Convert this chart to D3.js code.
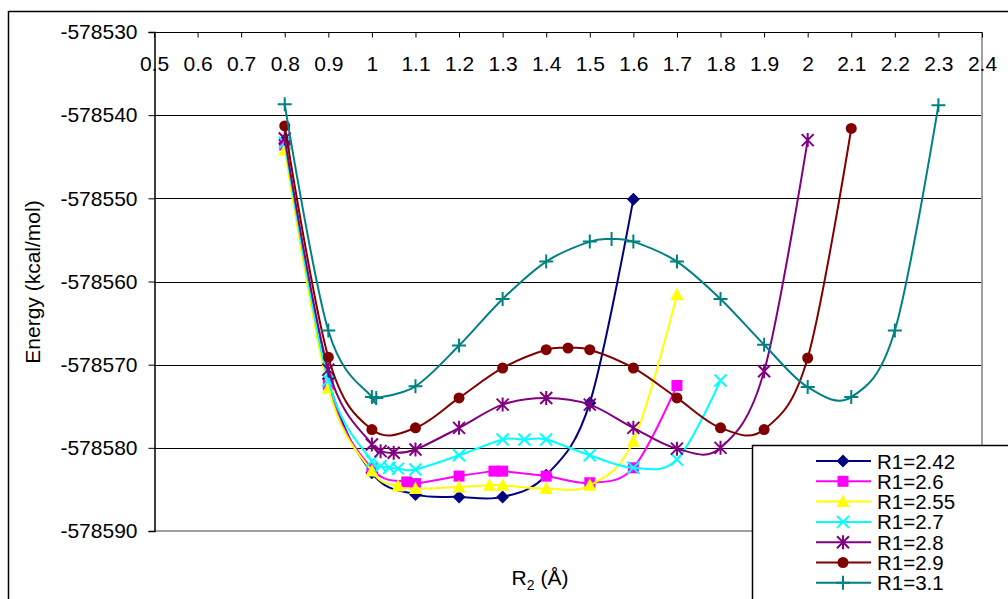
<!DOCTYPE html>
<html>
<head>
<meta charset="utf-8">
<script src="https://cdn.jsdelivr.net/npm/d3@7"></script>
<style>
  body { margin: 0; background: #fff; }
  svg { display: block; font-family: "Liberation Sans", Arial, sans-serif; }
</style>
</head>
<body>
<svg id="chart" width="1008" height="599"></svg>
<script>
// series names as in the legend
var seriesNames = ['R1=2.42', 'R1=2.6', 'R1=2.55', 'R1=2.7', 'R1=2.8', 'R1=2.9', 'R1=3.1'];

// R2 values (x) and energies (y) per series
var x242 = [0.8, 0.9, 1.0, 1.1, 1.2, 1.3, 1.4, 1.5, 1.6];
var y242 = [-578543.0, -578571.7, -578583.0, -578585.6, -578585.9, -578585.9, -578583.3, -578574.6, -578550.1];

var x26 = [0.8, 0.9, 1.0, 1.08, 1.1, 1.2, 1.28, 1.3, 1.4, 1.5, 1.6, 1.7];
var y26 = [-578543.6, -578572.4, -578582.5, -578584.1, -578584.3, -578583.4, -578582.8, -578582.8, -578583.4, -578584.2, -578582.4, -578572.5];

var x255 = [0.8, 0.9, 1.0, 1.06, 1.1, 1.2, 1.27, 1.3, 1.4, 1.5, 1.6, 1.7];
var y255 = [-578544.2, -578572.8, -578582.8, -578584.6, -578584.9, -578584.7, -578584.5, -578584.5, -578584.9, -578584.5, -578579.2, -578561.6];

var x27 = [0.8, 0.9, 1.0, 1.02, 1.04, 1.06, 1.1, 1.2, 1.3, 1.35, 1.4, 1.5, 1.6, 1.7, 1.8];
var y27 = [-578543.3, -578571.9, -578581.6, -578582.2, -578582.4, -578582.5, -578582.6, -578580.9, -578579.0, -578579.0, -578579.0, -578580.9, -578582.4, -578581.4, -578571.9];

var x28 = [0.8, 0.9, 1.0, 1.02, 1.05, 1.1, 1.2, 1.3, 1.4, 1.5, 1.6, 1.7, 1.8, 1.9, 2.0];
var y28 = [-578542.8, -578570.6, -578579.6, -578580.4, -578580.6, -578580.2, -578577.6, -578574.8, -578574.0, -578574.8, -578577.6, -578580.1, -578580.0, -578570.8, -578543.0];

var x29 = [0.8, 0.9, 1.0, 1.1, 1.2, 1.3, 1.4, 1.45, 1.5, 1.6, 1.7, 1.8, 1.9, 2.0, 2.1];
var y29 = [-578541.3, -578569.1, -578577.8, -578577.6, -578574.0, -578570.4, -578568.2, -578568.0, -578568.2, -578570.4, -578574.0, -578577.6, -578577.8, -578569.2, -578541.6];

var x31 = [0.8, 0.9, 1.0, 1.01, 1.1, 1.2, 1.3, 1.4, 1.5, 1.55, 1.6, 1.7, 1.8, 1.9, 2.0, 2.1, 2.2, 2.3];
var y31 = [-578538.7, -578565.9, -578573.9, -578574.0, -578572.6, -578567.7, -578562.1, -578557.6, -578555.2, -578554.9, -578555.2, -578557.6, -578562.1, -578567.6, -578572.7, -578573.9, -578565.9, -578538.8];

var xTicks = [0.5, 0.6, 0.7, 0.8, 0.9, 1, 1.1, 1.2, 1.3, 1.4, 1.5, 1.6, 1.7, 1.8, 1.9, 2, 2.1, 2.2, 2.3, 2.4];
var yTicks = [-578530, -578540, -578550, -578560, -578570, -578580, -578590];

// styling per series (colour, marker)
var colors = ['#000080', '#ff00ff', '#ffff00', '#00ffff', '#800080', '#800000', '#008080'];
var markers = ['diamond', 'square', 'triangle', 'x', 'star', 'circle', 'plus'];

var xs = [x242, x26, x255, x27, x28, x29, x31];
var ys = [y242, y26, y255, y27, y28, y29, y31];

var svg = d3.select('#chart');
var plotLeft = 154, plotRight = 982, plotTop = 32, plotBottom = 531;
var fontSize = 21;

var x = d3.scaleLinear().domain([0.5, 2.4]).range([plotLeft, plotRight]);
var y = d3.scaleLinear().domain([-578590, -578530]).range([plotBottom, plotTop]);

// outer chart border (runs off the picture right and bottom)
svg.append('rect')
    .attr('x', 8.5).attr('y', 11.5).attr('width', 1020).attr('height', 620)
    .attr('fill', '#fff').attr('stroke', '#000').attr('stroke-width', 1.5);

// grid lines
svg.append('g')
    .selectAll('line')
    .data(yTicks.slice(1, -1))
    .enter()
    .append('line')
    .attr('x1', plotLeft).attr('x2', plotRight)
    .attr('y1', function(d){ return Math.round(y(d)) + 0.5; })
    .attr('y2', function(d){ return Math.round(y(d)) + 0.5; })
    .attr('stroke', '#000').attr('stroke-width', 1);

// plot area right and bottom edges (grey)
svg.append('line').attr('x1', plotRight).attr('x2', plotRight).attr('y1', plotTop).attr('y2', plotBottom)
    .attr('stroke', '#a0a0a0').attr('stroke-width', 2);
svg.append('line').attr('x1', plotLeft).attr('x2', plotRight).attr('y1', plotBottom).attr('y2', plotBottom)
    .attr('stroke', '#a0a0a0').attr('stroke-width', 2);

// x axis at the top, ticks pointing into the plot
var xAxis = d3.axisBottom(x)
    .tickValues(xTicks)
    .tickSize(5)
    .tickPadding(18.5)
    .tickFormat(function(d){ return String(d); });
var gx = svg.append('g').attr('transform', 'translate(0,' + (plotTop + 0.5) + ')').call(xAxis);
gx.select('.domain').remove();
gx.selectAll('text').attr('font-size', fontSize).attr('font-family', 'Liberation Sans, Arial').attr('fill', '#000');
gx.selectAll('line').attr('stroke', '#000');
svg.append('line').attr('x1', plotLeft).attr('x2', plotRight).attr('y1', plotTop + 0.5).attr('y2', plotTop + 0.5)
    .attr('stroke', '#000').attr('stroke-width', 1.2);

// y axis
var yAxis = d3.axisLeft(y)
    .tickValues(yTicks)
    .tickSize(6)
    .tickPadding(11)
    .tickFormat(function(d){ return String(d); });
var gy = svg.append('g').attr('transform', 'translate(' + (plotLeft + 0.5) + ',0)').call(yAxis);
gy.select('.domain').attr('stroke', '#000').attr('stroke-width', 1.5);
gy.selectAll('text').attr('font-size', fontSize).attr('font-family', 'Liberation Sans, Arial').attr('fill', '#000');
gy.selectAll('line').attr('stroke', '#000');

// axis titles
svg.append('text')
    .attr('transform', 'translate(40,282) rotate(-90)')
    .attr('text-anchor', 'middle')
    .attr('font-size', 21)
    .text('Energy (kcal/mol)');
var xt = svg.append('text')
    .attr('x', 540).attr('y', 585)
    .attr('text-anchor', 'middle')
    .attr('font-size', 21);
xt.append('tspan').text('R');
xt.append('tspan').attr('font-size', 14).attr('dy', 5).text('2');
xt.append('tspan').attr('dy', -5).text(' (\u00c5)');

// marker drawing
function drawMarker(g, type, color){
    if(type == 'diamond'){
        g.append('path').attr('d', 'M0,-6.5L6.5,0L0,6.5L-6.5,0Z').attr('fill', color);
    }
    else if(type == 'square'){
        g.append('rect').attr('x', -5.5).attr('y', -5.5).attr('width', 11).attr('height', 11).attr('fill', color);
    }
    else if(type == 'triangle'){
        g.append('path').attr('d', 'M0,-7L6.5,5.5L-6.5,5.5Z').attr('fill', color);
    }
    else if(type == 'circle'){
        g.append('circle').attr('r', 5.5).attr('fill', color);
    }
    else if(type == 'x'){
        g.append('path').attr('d', 'M-6,-6L6,6M-6,6L6,-6').attr('stroke', color).attr('stroke-width', 2).attr('fill', 'none');
    }
    else if(type == 'star'){
        g.append('path').attr('d', 'M-6,-6L6,6M-6,6L6,-6M0,-7L0,7').attr('stroke', color).attr('stroke-width', 2).attr('fill', 'none');
    }
    else if(type == 'plus'){
        g.append('path').attr('d', 'M-7,0L7,0M0,-7L0,7').attr('stroke', color).attr('stroke-width', 2).attr('fill', 'none');
    }
}

// series lines and markers
var line = d3.line()
    .x(function(d){ return x(d[0]); })
    .y(function(d){ return y(d[1]); })
    .curve(d3.curveCardinal.tension(0));

seriesNames.forEach(function(name, i){
    var pts = xs[i].map(function(v, j){ return [v, ys[i][j]]; });
    var sg = svg.append('g').attr('class', 'series');
    sg.append('path')
        .datum(pts)
        .attr('d', line)
        .attr('fill', 'none')
        .attr('stroke', colors[i])
        .attr('stroke-width', 2);
    sg.selectAll('g.pt')
        .data(pts)
        .enter()
        .append('g')
        .attr('class', 'pt')
        .attr('transform', function(d){ return 'translate(' + x(d[0]) + ',' + y(d[1]) + ')'; })
        .each(function(){ drawMarker(d3.select(this), markers[i], colors[i]); });
});

// legend box (runs off the picture)
var lg = svg.append('g');
lg.append('rect')
    .attr('x', 752.5).attr('y', 445.5).attr('width', 300).attr('height', 200)
    .attr('fill', '#fff').attr('stroke', '#000').attr('stroke-width', 1.5);
seriesNames.forEach(function(name, i){
    var yy = 461 + i * 20.3;
    lg.append('line').attr('x1', 816).attr('x2', 871).attr('y1', yy).attr('y2', yy)
        .attr('stroke', colors[i]).attr('stroke-width', 2);
    var mg = lg.append('g').attr('transform', 'translate(843,' + yy + ')');
    drawMarker(mg, markers[i], colors[i]);
    lg.append('text').attr('x', 877).attr('y', yy + 7.5)
        .attr('font-size', 20.5)
        .text(name);
});
</script>
</body>
</html>
